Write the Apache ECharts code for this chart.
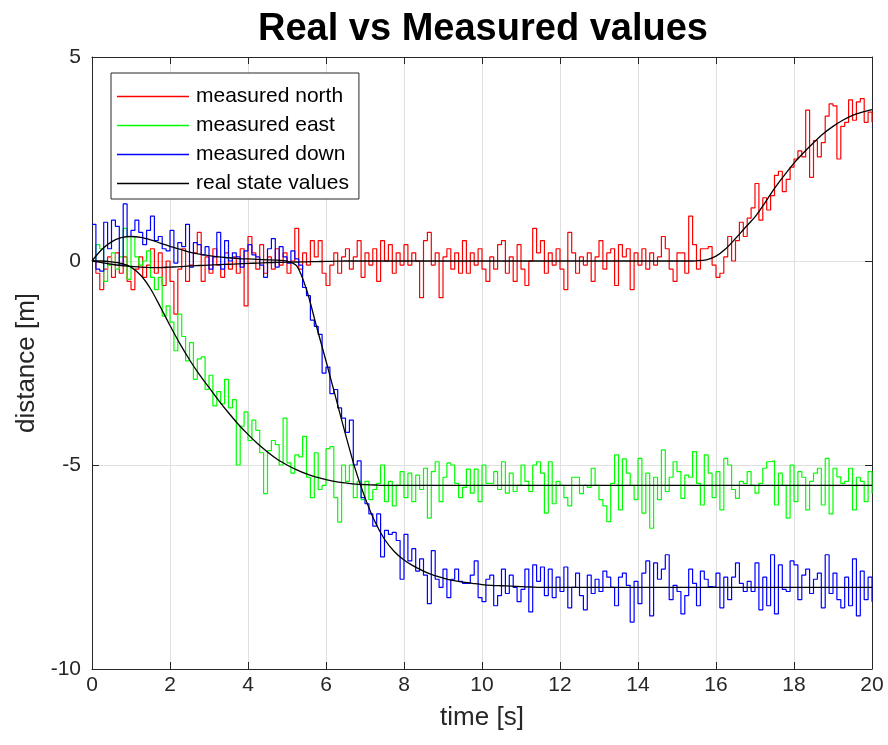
<!DOCTYPE html>
<html><head><meta charset="utf-8">
<script src="https://cdn.jsdelivr.net/npm/echarts@6/dist/echarts.min.js"></script>
<style>html,body{margin:0;padding:0;background:#fff}#c{width:888px;height:745px}</style>
</head><body><div id="c"></div>
<script>
// sampling steps (seconds)
const sampleStep = 0.1;
const realStep = 0.25;

const xTicks = [0,2,4,6,8,10,12,14,16,18,20];
const yTicks = [-10,-5,0,5];

// measured values, one row per second (10 samples each)
const measuredNorth = [
 0.0,-0.3,-0.7,-0.2,0.1,-0.4,0.2,-0.3,0.1,-0.5,
 -0.7,-0.2,0.1,-0.4,-0.1,0.3,-0.3,0.2,-0.6,0.0,
 -0.5,-1.3,-0.2,0.3,-0.5,-0.1,0.2,0.7,-0.5,0.1,
 -0.3,0.3,-0.1,-0.4,0.2,-0.2,0.1,-0.3,0.3,-1.1,
 0.6,0.2,-0.2,0.4,-0.3,0.1,-0.2,0.3,-0.1,0.2,
 -0.3,0.0,0.8,-0.2,0.2,-0.1,0.5,0.1,0.5,-0.3,
 -0.6,-0.1,0.2,-0.3,0.1,0.3,-0.2,0.1,0.5,-0.4,
 0.2,-0.1,0.3,-0.5,0.5,0.0,0.4,-0.3,0.2,-0.1,
 0.4,-0.1,0.2,0.0,-0.9,0.5,0.7,-0.1,0.2,-0.9,
 0.1,0.3,-0.2,0.2,-0.3,0.5,-0.3,0.2,-0.1,0.3,
 -0.2,-0.5,0.1,-0.2,0.4,0.5,-0.3,0.1,-0.5,0.4,
 -0.2,-0.6,0.0,0.8,0.2,0.5,-0.3,0.2,-0.1,0.3,
 -0.2,-0.7,0.7,0.2,-0.3,0.1,-0.1,0.2,-0.5,0.1,
 0.5,-0.2,0.2,0.3,-0.6,0.4,0.1,0.3,-0.7,0.2,
 -0.1,0.3,-0.2,0.2,-0.1,0.1,0.6,0.3,-0.2,-0.5,
 0.2,0.2,-0.3,1.1,0.4,-0.2,0.3,0.3,0.35,-0.1,
 -0.4,-0.3,0.1,0.6,0.0,0.5,0.95,0.6,1.05,1.3,
 1.9,1.0,1.55,1.25,1.6,2.1,2.2,1.7,2.0,2.3,
 2.5,2.7,2.55,3.7,2.05,2.95,2.55,2.9,3.55,3.85,
 3.8,2.5,3.3,3.4,3.95,3.45,3.9,3.98,3.4,3.65,
 3.4
];
const measuredEast = [
 0.0,0.4,0.3,-0.5,-0.1,0.2,-0.2,0.1,0.8,-0.45,
 0.6,0.1,-0.1,0.0,0.25,-0.4,-0.7,-0.4,-1.35,-1.1,
 -1.5,-2.2,-1.3,-1.85,-2.45,-2.0,-2.9,-2.4,-2.35,-3.15,
 -2.8,-3.55,-3.2,-3.5,-2.9,-3.6,-3.4,-5.0,-4.05,-3.7,
 -4.4,-3.9,-4.15,-4.7,-5.7,-4.65,-4.4,-4.5,-5.0,-3.85,
 -4.95,-5.2,-4.75,-4.8,-4.3,-5.3,-5.8,-4.7,-5.6,-5.5,
 -4.6,-4.55,-5.8,-6.4,-5.0,-5.4,-5.0,-5.8,-5.4,-5.85,
 -5.4,-5.85,-5.6,-5.45,-5.0,-5.9,-5.4,-6.0,-5.5,-5.16,
 -5.8,-5.2,-5.9,-5.25,-5.6,-5.08,-6.3,-5.16,-4.92,-5.9,
 -5.3,-4.95,-5.0,-5.45,-5.8,-5.55,-5.1,-5.69,-5.1,-5.9,
 -5.0,-5.45,-5.45,-5.16,-5.6,-4.92,-5.69,-5.2,-5.65,-5.5,
 -5.0,-5.4,-5.65,-5.0,-4.92,-5.2,-6.18,-4.92,-5.95,-5.4,
 -5.5,-5.8,-6.0,-5.3,-5.3,-5.7,-5.5,-5.55,-5.08,-5.5,
 -5.85,-6.0,-6.39,-5.45,-4.75,-6.1,-4.85,-5.2,-5.5,-5.85,
 -4.84,-6.18,-5.2,-6.55,-5.3,-5.85,-4.63,-5.65,-5.3,-4.92,
 -5.16,-5.82,-5.25,-5.3,-4.67,-5.45,-5.98,-4.75,-5.2,-5.8,
 -5.16,-6.1,-4.84,-5.0,-5.6,-5.82,-5.4,-5.45,-5.16,-5.5,
 -5.69,-5.45,-5.08,-4.92,-4.9,-5.98,-5.2,-5.5,-6.3,-5.0,
 -5.9,-5.16,-5.3,-6.1,-5.4,-5.2,-5.08,-5.98,-4.84,-6.2,
 -5.08,-5.29,-5.45,-5.4,-5.08,-6.1,-5.3,-5.4,-5.9,-5.16,
 -5.7
];
const measuredDown = [
 0.9,-0.2,-0.25,0.95,0.3,1.0,0.85,-0.1,1.4,0.6,
 0.75,1.0,0.7,0.4,0.75,1.1,0.5,0.6,0.3,0.25,
 0.75,-0.05,0.45,0.35,0.9,-0.15,0.45,0.4,0.15,0.35,
 -0.2,0.1,0.7,-0.2,0.5,0.0,0.2,0.1,-0.15,0.25,
 0.4,0.15,0.1,-0.1,-0.4,0.3,0.55,-0.15,0.35,0.1,
 -0.05,0.25,0.05,-0.1,-0.65,-0.85,-1.45,-1.6,-1.8,-2.75,
 -2.6,-3.25,-3.15,-3.6,-3.85,-4.2,-3.9,-5.0,-4.9,-5.8,
 -5.95,-6.2,-6.5,-6.2,-7.25,-6.6,-6.7,-6.65,-6.85,-7.8,
 -6.7,-7.35,-7.05,-7.6,-7.3,-7.7,-8.4,-7.1,-7.8,-8.0,
 -7.55,-8.25,-7.8,-7.55,-7.85,-7.9,-7.9,-7.7,-7.35,-8.25,
 -8.35,-7.8,-7.7,-8.45,-8.2,-7.55,-8.15,-7.7,-8.0,-8.35,
 -8.05,-7.55,-8.6,-7.45,-7.85,-7.5,-8.2,-7.55,-8.25,-7.75,
 -8.1,-7.5,-8.5,-8.0,-7.65,-8.2,-8.55,-7.7,-8.15,-7.8,
 -8.1,-7.6,-7.75,-8.0,-8.45,-7.75,-7.65,-7.95,-8.85,-7.85,
 -8.4,-7.65,-7.35,-8.7,-7.4,-7.8,-7.55,-7.2,-8.3,-7.95,
 -8.1,-8.65,-8.2,-7.55,-7.9,-8.45,-7.6,-7.8,-7.98,-8.0,
 -7.65,-8.5,-7.75,-8.3,-7.75,-7.4,-7.9,-8.1,-7.85,-8.1,
 -7.4,-8.55,-7.75,-8.45,-7.2,-8.65,-7.45,-8.05,-8.1,-7.35,
 -7.45,-8.3,-7.7,-7.55,-8.15,-7.8,-7.65,-8.5,-7.2,-8.15,
 -7.65,-8.3,-8.5,-7.75,-8.45,-7.3,-8.7,-7.6,-8.3,-7.75,
 -8.35
];

// real state values, every 0.25 s (rows of 8 = 2 s)
const realNorth = [
 0,-0.04,-0.08,-0.11,-0.13,-0.15,-0.16,-0.16,
 -0.15,-0.14,-0.12,-0.11,-0.1,-0.09,-0.08,-0.07,
 -0.06,-0.05,-0.04,-0.035,-0.03,-0.025,-0.02,-0.015,
 -0.01,-0.005,0,0,0,0,0,0,
 0,0,0,0,0,0,0,0,
 0,0,0,0,0,0,0,0,
 0,0,0,0,0,0,0,0,
 0,0,0,0,0,0,0.005,0.03,
 0.12,0.3,0.55,0.82,1.08,1.42,1.78,2.1,
 2.4,2.66,2.9,3.12,3.3,3.45,3.57,3.65,
 3.71
];
const realEast = [
 0,0,-0.02,-0.06,-0.15,-0.35,-0.68,-1.12,
 -1.58,-2.02,-2.42,-2.78,-3.1,-3.42,-3.72,-4.0,
 -4.25,-4.48,-4.68,-4.86,-5.0,-5.12,-5.22,-5.3,
 -5.36,-5.41,-5.44,-5.47,-5.48,-5.49,-5.5,-5.5,
 -5.5,-5.5,-5.5,-5.5,-5.5,-5.5,-5.5,-5.5,
 -5.5,-5.5,-5.5,-5.5,-5.5,-5.5,-5.5,-5.5,
 -5.5,-5.5,-5.5,-5.5,-5.5,-5.5,-5.5,-5.5,
 -5.5,-5.5,-5.5,-5.5,-5.5,-5.5,-5.5,-5.5,
 -5.5,-5.5,-5.5,-5.5,-5.5,-5.5,-5.5,-5.5,
 -5.5,-5.5,-5.5,-5.5,-5.5,-5.5,-5.5,-5.5,
 -5.5
];
const realDown = [
 0,0.28,0.47,0.57,0.6,0.58,0.52,0.44,
 0.36,0.29,0.22,0.17,0.13,0.1,0.08,0.06,
 0.05,0.04,0.03,0.02,0.0,-0.12,-0.7,-1.58,
 -2.45,-3.35,-4.25,-5.1,-5.8,-6.38,-6.82,-7.12,
 -7.33,-7.48,-7.6,-7.7,-7.77,-7.83,-7.87,-7.9,
 -7.93,-7.95,-7.96,-7.97,-7.98,-7.99,-8.0,-8.0,
 -8.0,-8.0,-8.0,-8.0,-8.0,-8.0,-8.0,-8.0,
 -8.0,-8.0,-8.0,-8.0,-8.0,-8.0,-8.0,-8.0,
 -8.0,-8.0,-8.0,-8.0,-8.0,-8.0,-8.0,-8.0,
 -8.0,-8.0,-8.0,-8.0,-8.0,-8.0,-8.0,-8.0,
 -8.0
];

function pairs(arr, step) {
  return arr.map((v, i) => [Math.round(i * step * 1000) / 1000, v]);
}

const FONT = '"Liberation Sans", Arial, Helvetica, sans-serif';
const AX = '#262626';
const GRID = '#e0e0e0';

const chart = echarts.init(document.getElementById('c'), null, {renderer: 'canvas'});

function measured(name, data, color) {
  return {
    name, type: 'line', step: 'end', data: pairs(data, sampleStep),
    symbol: 'none', lineStyle: {color, width: 1.2}, itemStyle: {color},
    xAxisIndex: 0, yAxisIndex: 0, z: 2
  };
}
function real(data) {
  return {
    name: 'real state values', type: 'line', smooth: 0.3, data: pairs(data, realStep),
    symbol: 'none', lineStyle: {color: '#000', width: 1.3}, itemStyle: {color: '#000'},
    xAxisIndex: 0, yAxisIndex: 0, z: 3
  };
}

const baseX = {
  type: 'value', min: xTicks[0], max: xTicks[xTicks.length - 1], interval: 2,
  axisLine: {show: true, onZero: false, lineStyle: {color: AX, width: 1}},
  axisTick: {show: true, inside: true, length: 7, lineStyle: {color: AX}},
};
const baseY = {
  type: 'value', min: yTicks[0], max: yTicks[yTicks.length - 1], interval: 5,
  axisLine: {show: true, onZero: false, lineStyle: {color: AX, width: 1}},
  axisTick: {show: true, inside: true, length: 7, lineStyle: {color: AX}},
};

chart.setOption({
  animation: false,
  backgroundColor: '#fff',
  title: {
    text: 'Real vs Measured values', left: 478, top: 6, textAlign: 'center',
    textStyle: {fontFamily: FONT, fontWeight: 'bold', fontSize: 38, color: '#000'}
  },
  grid: {left: 92, right: 16, top: 57, bottom: 76, containLabel: false},
  legend: {
    data: ['measured north', 'measured east', 'measured down', 'real state values'],
    orient: 'vertical', left: 111, top: 73,
    icon: 'rect', itemWidth: 72, itemHeight: 1.5, itemGap: 8,
    padding: [13, 10, 5, 6],
    backgroundColor: '#fff', borderColor: AX, borderWidth: 1,
    textStyle: {fontFamily: FONT, fontSize: 21, color: '#000', lineHeight: 21, padding: [0, 0, 0, 2]},
    selectedMode: false
  },
  xAxis: [
    Object.assign({}, baseX, {
      position: 'bottom',
      axisLabel: {show: true, fontFamily: FONT, fontSize: 21, color: AX, margin: 6},
      splitLine: {show: true, lineStyle: {color: GRID, width: 1}},
      name: 'time [s]', nameLocation: 'middle', nameGap: 36,
      nameTextStyle: {fontFamily: FONT, fontSize: 26, color: AX}
    }),
    Object.assign({}, baseX, {
      position: 'top', axisLabel: {show: false}, splitLine: {show: false}
    })
  ],
  yAxis: [
    Object.assign({}, baseY, {
      position: 'left',
      axisLabel: {show: true, fontFamily: FONT, fontSize: 21, color: AX, margin: 11},
      splitLine: {show: true, lineStyle: {color: GRID, width: 1}},
      name: 'distance [m]', nameLocation: 'middle', nameGap: 50, nameRotate: 90,
      nameTextStyle: {fontFamily: FONT, fontSize: 26, color: AX}
    }),
    Object.assign({}, baseY, {
      position: 'right', axisLabel: {show: false}, splitLine: {show: false}
    })
  ],
  series: [
    measured('measured north', measuredNorth, '#ff0000'),
    measured('measured east', measuredEast, '#00ff00'),
    measured('measured down', measuredDown, '#0000ff'),
    real(realNorth),
    real(realEast),
    real(realDown)
  ]
});
</script>
</body></html>
